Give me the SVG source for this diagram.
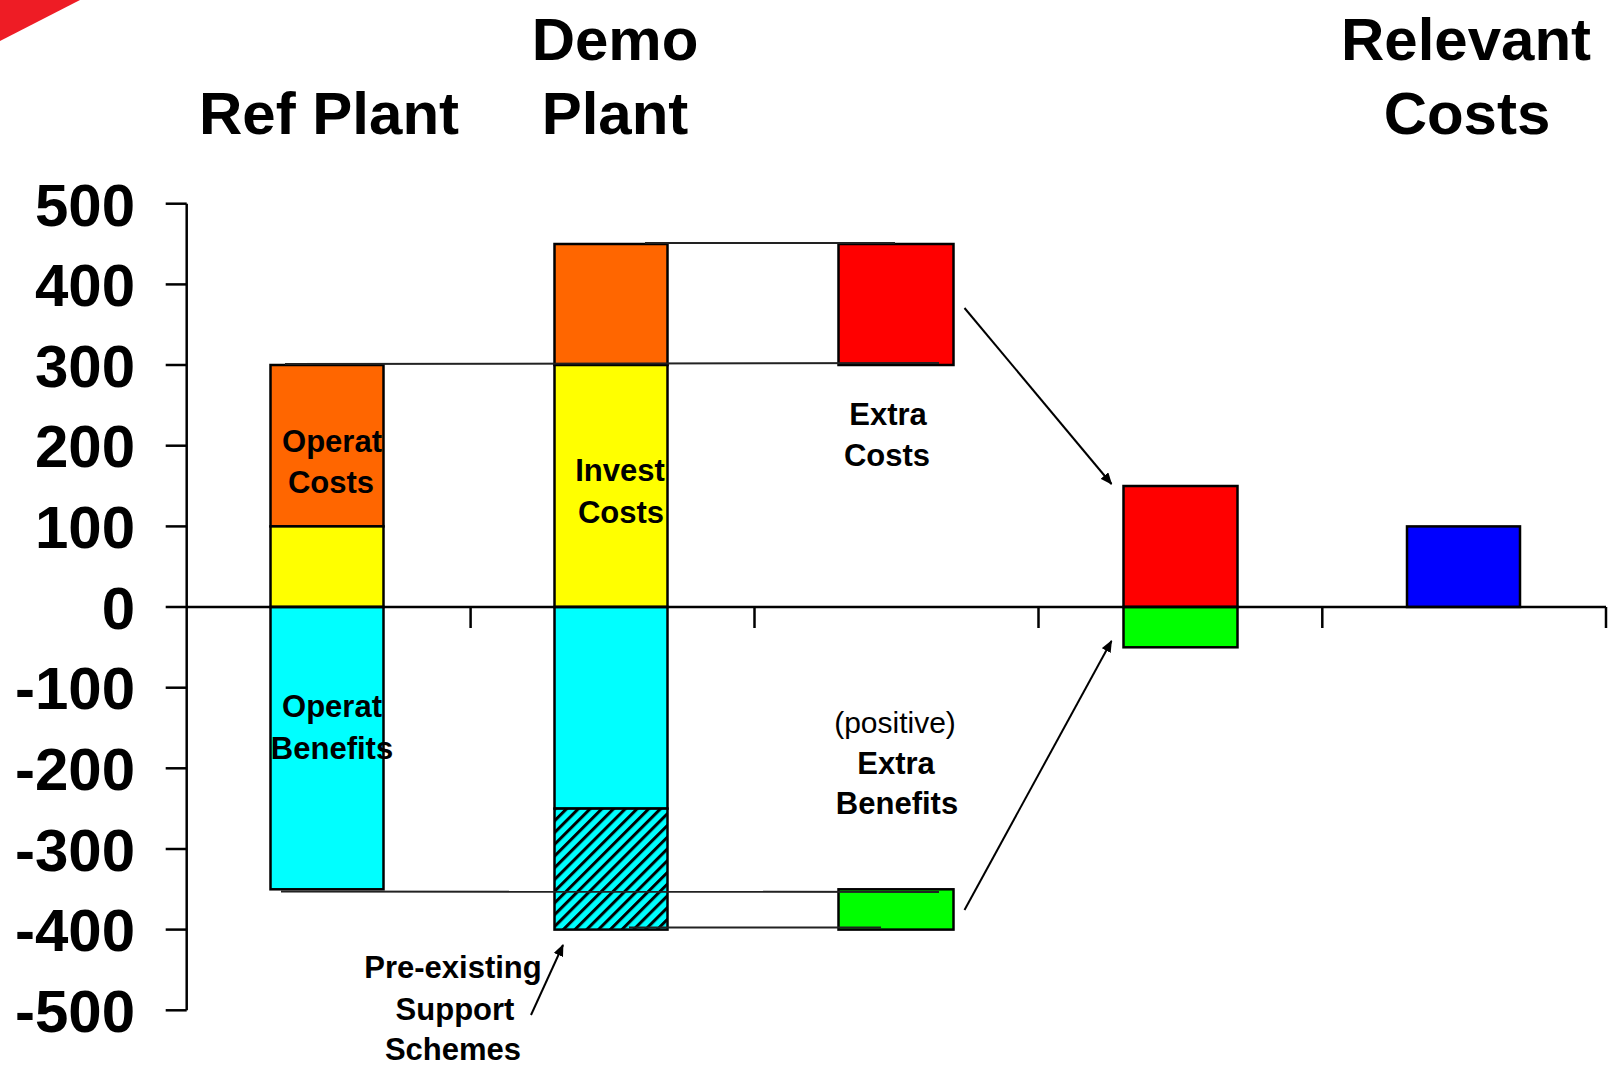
<svg xmlns="http://www.w3.org/2000/svg" width="1613" height="1069" viewBox="0 0 1613 1069">
<defs>
<style>
.t{font-family:"Liberation Sans",Arial,sans-serif;fill:#000}
.title{font-size:60px;font-weight:bold;text-anchor:middle}
.ax{font-size:60px;font-weight:bold;text-anchor:end}
.lbl{font-size:31px;font-weight:bold;text-anchor:middle}
.reg{font-size:30px;text-anchor:middle}
.bar{stroke:#000;stroke-width:2.5}
.axis{stroke:#000;stroke-width:2.5;fill:none}
.conn{stroke:#222;stroke-width:2;fill:none}
.arr{stroke:#000;stroke-width:2;fill:none;marker-end:url(#ah)}
</style>
<marker id="ah" markerWidth="12" markerHeight="10" refX="11" refY="5" orient="auto" markerUnits="userSpaceOnUse">
<path d="M0,0 L12,5 L0,10 Z" fill="#000"/>
</marker>
<pattern id="hatch" width="8.3" height="10" patternUnits="userSpaceOnUse" patternTransform="rotate(45)">
<rect x="0" y="0" width="8.3" height="10" fill="#00ffff"/>
<rect x="0" y="0" width="3" height="10" fill="#000"/>
</pattern>
</defs>
<rect width="1613" height="1069" fill="#fff"/>
<polygon points="0,0 80,0 0,41" fill="#ee1c25"/>

<g id="titles">
<text class="t title" x="329" y="134">Ref Plant</text>
<text class="t title" x="615" y="60">Demo</text>
<text class="t title" x="615" y="134">Plant</text>
<text class="t title" x="1466" y="60">Relevant</text>
<text class="t title" x="1467" y="134">Costs</text>
</g>

<g id="axes">
<line class="axis" x1="186.7" y1="203.7" x2="186.7" y2="1010.3"/>
<line class="axis" x1="165.7" y1="203.7" x2="186.7" y2="203.7"/>
<line class="axis" x1="165.7" y1="284.4" x2="186.7" y2="284.4"/>
<line class="axis" x1="165.7" y1="365" x2="186.7" y2="365"/>
<line class="axis" x1="165.7" y1="445.7" x2="186.7" y2="445.7"/>
<line class="axis" x1="165.7" y1="526.4" x2="186.7" y2="526.4"/>
<line class="axis" x1="165.7" y1="687.7" x2="186.7" y2="687.7"/>
<line class="axis" x1="165.7" y1="768.3" x2="186.7" y2="768.3"/>
<line class="axis" x1="165.7" y1="849" x2="186.7" y2="849"/>
<line class="axis" x1="165.7" y1="929.6" x2="186.7" y2="929.6"/>
<line class="axis" x1="165.7" y1="1010.3" x2="186.7" y2="1010.3"/>
<text class="t ax" x="135" y="226">500</text>
<text class="t ax" x="135" y="306">400</text>
<text class="t ax" x="135" y="387">300</text>
<text class="t ax" x="135" y="467">200</text>
<text class="t ax" x="135" y="548">100</text>
<text class="t ax" x="135" y="629">0</text>
<text class="t ax" x="135" y="709">-100</text>
<text class="t ax" x="135" y="790">-200</text>
<text class="t ax" x="135" y="871">-300</text>
<text class="t ax" x="135" y="951">-400</text>
<text class="t ax" x="135" y="1032">-500</text>
</g>

<g id="ref-plant">
<rect class="bar" x="270.5" y="365" width="113" height="161.4" fill="#ff6600"/>
<rect class="bar" x="270.5" y="526.4" width="113" height="80.6" fill="#ffff00"/>
<rect class="bar" x="270.5" y="607" width="113" height="282.3" fill="#00ffff"/>
<text class="t lbl" x="332" y="452">Operat</text>
<text class="t lbl" x="331" y="493">Costs</text>
<text class="t lbl" x="332" y="717">Operat</text>
<text class="t lbl" x="332" y="759">Benefits</text>
</g>

<g id="demo-plant">
<rect class="bar" x="554.5" y="244" width="113" height="121" fill="#ff6600"/>
<rect class="bar" x="554.5" y="365" width="113" height="242" fill="#ffff00"/>
<rect class="bar" x="554.5" y="607" width="113" height="201.6" fill="#00ffff"/>
<rect class="bar" x="554.5" y="808.6" width="113" height="121" fill="url(#hatch)"/>
<text class="t lbl" x="620" y="481">Invest</text>
<text class="t lbl" x="621" y="523">Costs</text>
</g>

<g id="extra-costs">
<rect class="bar" x="838.5" y="244" width="115" height="121" fill="#ff0000"/>
<text class="t lbl" x="888" y="425">Extra</text>
<text class="t lbl" x="887" y="466">Costs</text>
</g>

<g id="extra-benefits">
<rect class="bar" x="838.5" y="889.3" width="115" height="40.3" fill="#00ff00"/>
<text class="t reg" x="895" y="733">(positive)</text>
<text class="t lbl" x="896" y="774">Extra</text>
<text class="t lbl" x="897" y="814">Benefits</text>
</g>

<g id="net-bar">
<rect class="bar" x="1123.5" y="486" width="114" height="121" fill="#ff0000"/>
<rect class="bar" x="1123.5" y="607" width="114" height="40.3" fill="#00ff00"/>
</g>

<g id="relevant-costs">
<rect class="bar" x="1407" y="526.4" width="113" height="80.6" fill="#0000ff"/>
</g>

<g id="support-label">
<text class="t lbl" x="453" y="978">Pre-existing</text>
<text class="t lbl" x="455" y="1020">Support</text>
<text class="t lbl" x="453" y="1060">Schemes</text>
</g>

<g id="x-axis">
<line class="axis" x1="165.7" y1="607" x2="1606" y2="607"/>
<line class="axis" x1="470.6" y1="607" x2="470.6" y2="628"/>
<line class="axis" x1="754.5" y1="607" x2="754.5" y2="628"/>
<line class="axis" x1="1038.5" y1="607" x2="1038.5" y2="628"/>
<line class="axis" x1="1322.3" y1="607" x2="1322.3" y2="628"/>
<line class="axis" x1="1606" y1="607" x2="1606" y2="628"/>
</g>

<g id="connectors">
<line class="conn" x1="645" y1="243" x2="895" y2="243"/>
<line class="conn" x1="285" y1="364" x2="939" y2="363"/>
<line class="conn" x1="281" y1="891.5" x2="939" y2="892"/>
<line class="conn" x1="629" y1="927.5" x2="881" y2="927.5"/>
<line class="arr" x1="964.5" y1="308" x2="1111.5" y2="484"/>
<line class="arr" x1="964.5" y1="910" x2="1111.5" y2="641"/>
<line class="arr" x1="531" y1="1015" x2="563" y2="945"/>
</g>
</svg>
